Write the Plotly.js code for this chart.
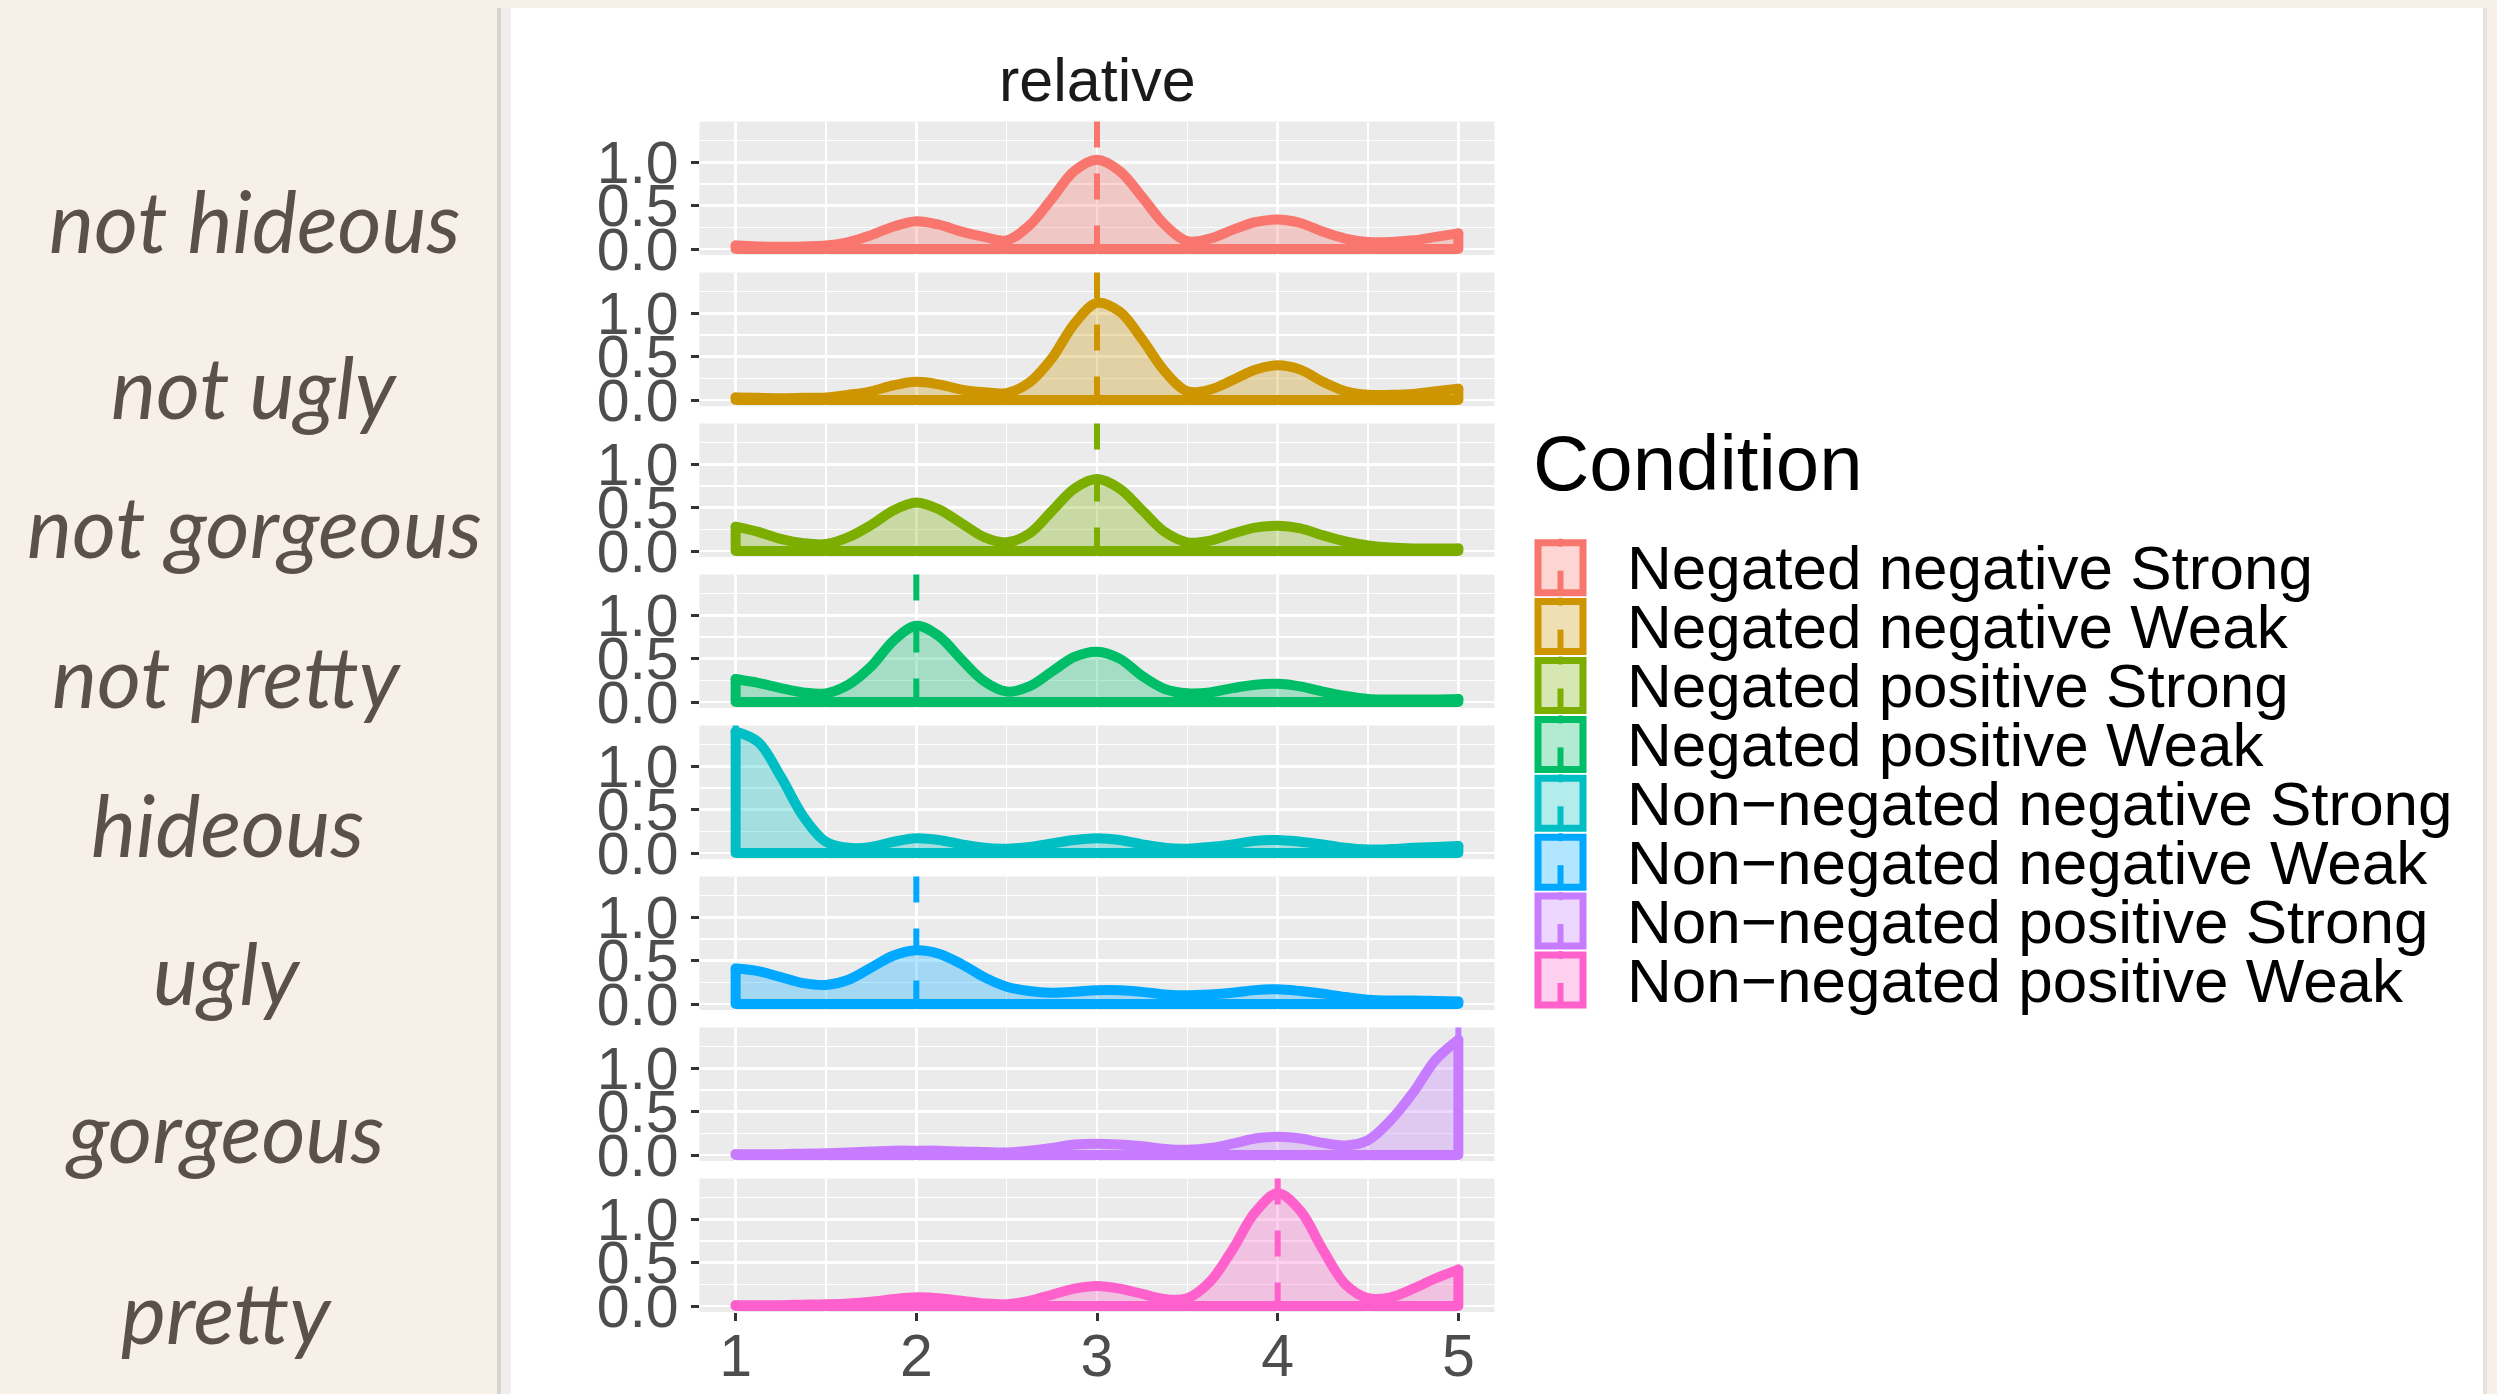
<!DOCTYPE html>
<html>
<head>
<meta charset="utf-8">
<script src="https://cdn.plot.ly/plotly-3.0.1.min.js"></script>
<style>
html,body{margin:0;padding:0;background:#ffffff;overflow:hidden;}
#chart{width:2497px;height:1394px;}
.js-line{stroke-linejoin:round;stroke-linecap:round;}
</style>
</head>
<body>
<div id="chart"></div>
<script>
// ---------------- data ----------------
const conditions = ['Negated negative Strong','Negated negative Weak','Negated positive Strong','Negated positive Weak',
  'Non\u2212negated negative Strong','Non\u2212negated negative Weak','Non\u2212negated positive Strong','Non\u2212negated positive Weak'];
const words = ['not hideous','not ugly','not gorgeous','not pretty','hideous','ugly','gorgeous','pretty'];
const colors = ['#F8766D','#CD9600','#7CAE00','#00BE67','#00BFC4','#00A9FF','#C77CFF','#FF61CC'];
const xGrid = [1,1.125,1.25,1.375,1.5,1.625,1.75,1.875,2,2.125,2.25,2.375,2.5,2.625,2.75,2.875,3,
               3.125,3.25,3.375,3.5,3.625,3.75,3.875,4,4.125,4.25,4.375,4.5,4.625,4.75,4.875,5];
const densNegNegStrong = [0.04,0.03,0.025,0.03,0.04,0.08,0.16,0.26,0.32,0.28,0.20,0.14,0.10,0.27,0.58,0.90,1.03,
                          0.90,0.60,0.28,0.09,0.12,0.22,0.31,0.34,0.30,0.20,0.12,0.08,0.08,0.10,0.14,0.18];
const densNegNegWeak   = [0.03,0.025,0.02,0.025,0.03,0.06,0.10,0.17,0.21,0.18,0.12,0.09,0.08,0.20,0.48,0.88,1.12,
                          1.02,0.70,0.33,0.10,0.12,0.23,0.35,0.40,0.35,0.21,0.10,0.06,0.06,0.07,0.10,0.13];
const densNegPosStrong = [0.28,0.22,0.14,0.09,0.08,0.16,0.30,0.47,0.56,0.48,0.32,0.16,0.10,0.20,0.46,0.72,0.83,
                          0.72,0.47,0.22,0.10,0.12,0.20,0.27,0.29,0.26,0.18,0.11,0.065,0.04,0.03,0.03,0.03];
const densNegPosWeak   = [0.265,0.22,0.16,0.11,0.10,0.20,0.41,0.71,0.88,0.76,0.49,0.24,0.12,0.18,0.35,0.52,0.58,
                          0.50,0.30,0.15,0.10,0.11,0.16,0.20,0.21,0.18,0.12,0.07,0.035,0.03,0.03,0.03,0.035];
const densNonNegStrong = [1.40,1.28,0.88,0.42,0.13,0.06,0.07,0.13,0.17,0.15,0.10,0.06,0.05,0.07,0.11,0.15,0.17,
                          0.15,0.10,0.06,0.05,0.07,0.10,0.14,0.15,0.13,0.10,0.06,0.04,0.045,0.06,0.07,0.08];
const densNonNegWeak   = [0.41,0.38,0.31,0.24,0.22,0.28,0.42,0.56,0.62,0.58,0.46,0.31,0.20,0.15,0.13,0.14,0.16,
                          0.16,0.14,0.11,0.10,0.11,0.13,0.16,0.17,0.15,0.12,0.08,0.05,0.04,0.04,0.035,0.03];
const densNonPosStrong = [0.01,0.01,0.01,0.015,0.02,0.03,0.04,0.05,0.05,0.05,0.04,0.035,0.03,0.05,0.08,0.12,0.13,
                          0.12,0.10,0.07,0.06,0.08,0.13,0.19,0.21,0.19,0.14,0.11,0.17,0.40,0.72,1.10,1.33];
const densNonPosWeak   = [0.01,0.01,0.01,0.015,0.02,0.03,0.05,0.08,0.10,0.09,0.06,0.03,0.02,0.06,0.13,0.20,0.23,
                          0.20,0.14,0.08,0.09,0.28,0.65,1.08,1.30,1.10,0.65,0.25,0.09,0.10,0.20,0.32,0.42];
const densities = [densNegNegStrong,densNegNegWeak,densNegPosStrong,densNegPosWeak,
                   densNonNegStrong,densNonNegWeak,densNonPosStrong,densNonPosWeak];
const medians = [3,3,3,2,1,2,5,4];
const xTickVals = [1,2,3,4,5];
const xTickLabels = ['1','2','3','4','5'];
const yTickVals = [0,0.5,1];
const yTickLabels = ['0.0','0.5','1.0'];
const facetTitle = 'relative';
const legendTitle = 'Condition';

// ---------------- geometry ----------------
const W = 2497, H = 1394;
const px = v => v / W;
const py = v => 1 - v / H;
const yRange = [-0.07, 1.47];
const unit = 86.7, zero0 = 249, pitch = 151;
const xL = 699.5, xR = 1494.5;
function rgba(hex, a){
  const r = parseInt(hex.slice(1,3),16), g = parseInt(hex.slice(3,5),16), b = parseInt(hex.slice(5,7),16);
  return 'rgba(' + r + ',' + g + ',' + b + ',' + a + ')';
}

const tickFont = {family:'Liberation Sans, Arial, sans-serif', size:59, color:'#4D4D4D'};
const traces = [];
const shapes = [];
const annotations = [];
const layout = {
  width: W, height: H,
  margin: {l:0, r:0, t:0, b:0},
  paper_bgcolor: '#FFFFFF',
  plot_bgcolor: '#EBEBEB',
  showlegend: false,
  shapes: shapes,
  annotations: annotations
};

// slide background strips (outside the white card)
const beige = '#F6F0E9';
shapes.push({type:'rect', xref:'paper', yref:'paper', x0:0, x1:px(497), y0:0, y1:1, fillcolor:beige, line:{width:0}, layer:'below'});
shapes.push({type:'rect', xref:'paper', yref:'paper', x0:px(497), x1:1, y0:py(8), y1:1, fillcolor:beige, line:{width:0}, layer:'below'});
shapes.push({type:'rect', xref:'paper', yref:'paper', x0:px(2487), x1:1, y0:0, y1:1, fillcolor:beige, line:{width:0}, layer:'below'});
shapes.push({type:'rect', xref:'paper', yref:'paper', x0:px(497), x1:px(501), y0:0, y1:py(8), fillcolor:'#D9D4CE', line:{width:0}, layer:'below'});
shapes.push({type:'rect', xref:'paper', yref:'paper', x0:px(501), x1:px(511), y0:0, y1:py(8), fillcolor:'#F1EFED', line:{width:0}, layer:'below'});
shapes.push({type:'rect', xref:'paper', yref:'paper', x0:px(2483), x1:px(2487), y0:0, y1:py(8), fillcolor:'#E6E3E0', line:{width:0}, layer:'below'});

for (let k = 0; k < 8; k++) {
  const s = k === 0 ? '' : String(k + 1);
  const zero = zero0 + pitch * k;
  const top = zero - yRange[1] * unit;
  const bot = zero - yRange[0] * unit;
  const last = k === 7;
  layout['xaxis' + s] = {
    domain: [px(xL), px(xR)], range: [0.8, 5.2], anchor: 'y' + s,
    tickmode: 'array', tickvals: xTickVals, ticktext: xTickLabels,
    showticklabels: last, ticks: last ? 'outside' : '', ticklen: 8, tickwidth: 3, tickcolor: '#333333',
    tickfont: tickFont, ticklabelstandoff: -16,
    showgrid: true, gridcolor: '#FFFFFF', gridwidth: 2.8,
    minor: {tickmode:'array', tickvals:[1.5,2.5,3.5,4.5], showgrid:true, gridcolor:'#FFFFFF', gridwidth:1.4, ticks:''},
    zeroline: false, showline: false, fixedrange: true
  };
  layout['yaxis' + s] = {
    domain: [py(bot), py(top)], range: yRange, anchor: 'x' + s,
    tickmode: 'array', tickvals: yTickVals, ticktext: yTickLabels,
    ticks: 'outside', ticklen: 8, tickwidth: 3, tickcolor: '#333333',
    tickfont: tickFont,
    showgrid: true, gridcolor: '#FFFFFF', gridwidth: 2.8,
    minor: {tickmode:'array', tickvals:[0.25,0.75,1.25], showgrid:true, gridcolor:'#FFFFFF', gridwidth:1.4, ticks:''},
    zeroline: false, showline: false, fixedrange: true
  };
  const d = densities[k];
  const c = colors[k];
  traces.push({
    type:'scatter', mode:'lines', x: xGrid, y: d,
    xaxis:'x' + s, yaxis:'y' + s,
    line:{color:c, width:10, shape:'spline', smoothing:1},
    fill:'tozeroy', fillcolor: rgba(c, 0.3),
    name: conditions[k], hoverinfo:'skip'
  });
  const n = xGrid.length - 1;
  traces.push({
    type:'scatter', mode:'lines',
    x: [xGrid[0], xGrid[0], xGrid[n], xGrid[n]],
    y: [d[0], 0, 0, d[n]],
    xaxis:'x' + s, yaxis:'y' + s,
    line:{color:c, width:10},
    name: conditions[k], hoverinfo:'skip'
  });
  shapes.push({
    type:'line', xref:'x' + s, yref:'y' + s + ' domain',
    x0: medians[k], x1: medians[k], y0: 1, y1: 0,
    line:{color:c, width:6, dash:'26px,26px'}, layer:'above'
  });
}

// facet strip title
annotations.push({text: facetTitle, xref:'paper', yref:'paper', x: px((xL + xR) / 2), y: py(80),
  xanchor:'center', yanchor:'middle', showarrow:false,
  font:{family:'Liberation Sans, Arial, sans-serif', size:61, color:'#1A1A1A'}});

// legend (drawn manually)
annotations.push({text: legendTitle, xref:'paper', yref:'paper', x: px(1531), y: py(463),
  xanchor:'left', yanchor:'middle', showarrow:false,
  font:{family:'Liberation Sans, Arial, sans-serif', size:78, color:'#000000'}});
for (let i = 0; i < conditions.length; i++) {
  const rc = 567.7 + 58.9 * i;
  const c = colors[i];
  shapes.push({type:'rect', xref:'paper', yref:'paper', x0:px(1538), x1:px(1583), y0:py(rc + 25), y1:py(rc - 25),
    fillcolor: rgba(c, 0.3), line:{color:c, width:7}});
  shapes.push({type:'line', xref:'paper', yref:'paper', x0:px(1560.5), x1:px(1560.5), y0:py(rc + 26), y1:py(rc + 3),
    line:{color:c, width:6}});
  shapes.push({type:'line', xref:'paper', yref:'paper', x0:px(1560.5), x1:px(1560.5), y0:py(rc - 29), y1:py(rc - 21),
    line:{color:c, width:4}});
  annotations.push({text: conditions[i], xref:'paper', yref:'paper', x: px(1625), y: py(rc),
    xanchor:'left', yanchor:'middle', showarrow:false,
    font:{family:'Liberation Sans, Arial, sans-serif', size:62, color:'#000000'}});
}

// slide row labels
const labelX = [255, 255, 255, 227, 227, 227, 225, 226];
const labelY = [220, 386, 525, 675, 824, 972, 1130, 1311];
for (let i = 0; i < words.length; i++) {
  annotations.push({text: words[i], xref:'paper', yref:'paper', x: px(labelX[i]), y: py(labelY[i]),
    xanchor:'center', yanchor:'middle', showarrow:false,
    font:{family:'Lato, Noto Sans, sans-serif', size:85, color:'#5A514B', style:'italic'}});
}

Plotly.newPlot('chart', traces, layout, {staticPlot:true, displayModeBar:false});
</script>
</body>
</html>
